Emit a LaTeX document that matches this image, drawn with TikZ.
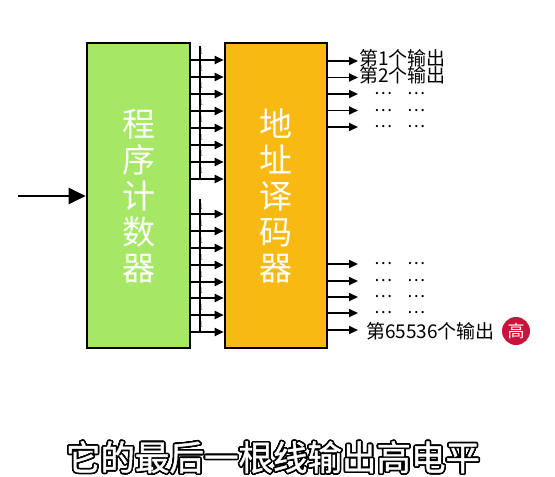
\documentclass[tikz,border=0pt]{standalone}
\usepackage{fontspec}
\usepackage{contour}
\usetikzlibrary{arrows.meta}
\newfontfamily\cjk{Noto Sans CJK SC}
\newfontfamily\cjkbold[FakeBold=1.2]{Noto Sans CJK SC}
\definecolor{pcgreen}{HTML}{A6E866}
\definecolor{decorange}{HTML}{F8BA12}
\definecolor{hired}{HTML}{C8143C}
\contourlength{1.6pt}
\contournumber{24}
\begin{document}
\begin{tikzpicture}[x=1pt,y=-1pt,font=\cjk,
  box/.style={draw=black,line width=2.6pt,inner sep=0pt},
  boxtext/.style={text=white,align=center,font=\cjk\fontsize{33}{36}\selectfont},
  bus/.style={line width=1.8pt,-{Triangle[length=9pt,width=8pt]}},
  outarrow/.style={line width=1.8pt,-{Triangle[length=9pt,width=8pt]}},
  onelabel/.style={font=\fontsize{9}{9}\selectfont,inner sep=0pt},
  outlabel/.style={anchor=west,inner sep=0pt,font=\cjk\fontsize{19}{19}\selectfont},
  dots/.style={inner sep=0pt,font=\cjk\fontsize{17}{17}\selectfont}]
\path[use as bounding box,fill=white] (0,0) rectangle (555,477);
% boxes
\node[box,fill=pcgreen,minimum width=103pt,minimum height=305pt] (pc) at (138.5,195.5) {};
\node[box,fill=decorange,minimum width=102pt,minimum height=305pt] (dec) at (276,195.5) {};
\node[boxtext] (pct) at (138.5,196) {程\\序\\计\\数\\器};
\node[boxtext] (dect) at (276,196) {地\\址\\译\\码\\器};
% input
\coordinate (in) at (18,196);
\draw[line width=2pt,-{Triangle[length=17pt,width=16pt]}] (in) -- (pc.west |- in);
% bus lines between boxes
\draw[line width=1.3pt] (200,46) -- (200,179);
\draw[line width=1.3pt] (200,199) -- (200,332);
\foreach \y [count=\i] in {60,77,94,111,128,145,162,179,214,231,248,265,282,298,315,332}{
  \coordinate (r\i) at (0,\y);
  \draw[bus] (pc.east |- r\i) -- (dec.west |- r\i);
  \node[onelabel] (one\i) at (201,\y-8) {1};
}
% outputs
\foreach \y [count=\i] in {61,77.5,94,110.5,127,264,281,297,313,330}{
  \coordinate (o\i) at (358,\y);
  \draw[outarrow] (dec.east |- o\i) -- (o\i);
}
\node[outlabel] (l1) at (359,58) {第1个输出};
\node[outlabel] (l2) at (359,75) {第2个输出};
\foreach \y [count=\i] in {94,110.5,127,264,281,297,313}{
  \node[dots] (da\i) at (383,\y) {…};
  \node[dots] (db\i) at (416,\y) {…};
}
\node[outlabel] (l3) at (366,331) {第65536个输出};
\node[circle,fill=hired,minimum size=28pt,inner sep=0pt,text=white,font=\cjk\fontsize{17}{17}\selectfont] (hi) at (516,331) {高};
% subtitle
\node[text=white,font=\cjkbold\fontsize{34.5}{34.5}\selectfont] (sub) at (273,458) {\contour{black}{它的最后一根线输出高电平}};
\end{tikzpicture}
\end{document}
